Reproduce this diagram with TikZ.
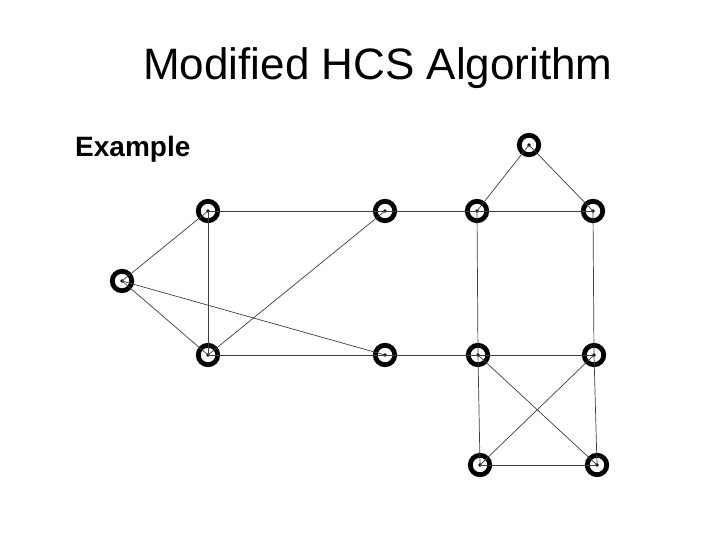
\documentclass[tikz,border=0pt]{standalone}
\usepackage{fontspec}
\setmainfont{Liberation Sans}
\usepackage{tikz}

\begin{document}
\begin{tikzpicture}[
    x=1pt, y=-1pt,
    vertex/.style={circle, draw, line width=4.8pt, minimum size=19.5pt, inner sep=0pt,
        path picture={\fill (path picture bounding box.center) circle (1.8pt);}},
    edge/.style={line width=0.7pt, black!75},
    title/.style={font=\fontsize{44}{48}\selectfont, anchor=base},
    heading/.style={font=\fontsize{28}{32}\selectfont\bfseries, anchor=base west},
]
    \useasboundingbox[fill=white] (0,0) rectangle (720,540);

    % Title and subheading
    \node[title] (ttl) at (378, 80) {Modified HCS Algorithm};
    \node[heading, inner sep=0pt] (ex) at (75, 157) {Example};

    % Left part of the graph
    \node[vertex] (a) at (122, 281) {};
    \node[vertex] (b) at (208, 211) {};
    \node[vertex] (c) at (208, 355) {};
    \node[vertex] (d) at (385, 211) {};
    \node[vertex] (e) at (385, 355) {};

    % Right part of the graph
    \node[vertex] (f) at (477, 211) {};
    \node[vertex] (g) at (529, 145) {};
    \node[vertex] (h) at (593, 211) {};
    \node[vertex] (i) at (478, 355) {};
    \node[vertex] (j) at (594, 355) {};
    \node[vertex] (k) at (480, 465) {};
    \node[vertex] (l) at (597, 465) {};

    % Edges, left
    \draw[edge] (a.center) -- (b.center);
    \draw[edge] (a.center) -- (c.center);
    \draw[edge] (a.center) -- (e.center);
    \draw[edge] (b.center) -- (c.center);
    \draw[edge] (b.center) -- (d.center);
    \draw[edge] (c.center) -- (d.center);
    \draw[edge] (c.center) -- (e.center);

    % Edges joining both parts
    \draw[edge] (d.center) -- (f.center);
    \draw[edge] (e.center) -- (i.center);

    % Edges, right
    \draw[edge] (f.center) -- (g.center);
    \draw[edge] (g.center) -- (h.center);
    \draw[edge] (f.center) -- (h.center);
    \draw[edge] (f.center) -- (i.center);
    \draw[edge] (h.center) -- (j.center);
    \draw[edge] (i.center) -- (j.center);
    \draw[edge] (i.center) -- (k.center);
    \draw[edge] (j.center) -- (l.center);
    \draw[edge] (k.center) -- (l.center);
    \draw[edge] (i.center) -- (l.center);
    \draw[edge] (j.center) -- (k.center);
\end{tikzpicture}
\end{document}
